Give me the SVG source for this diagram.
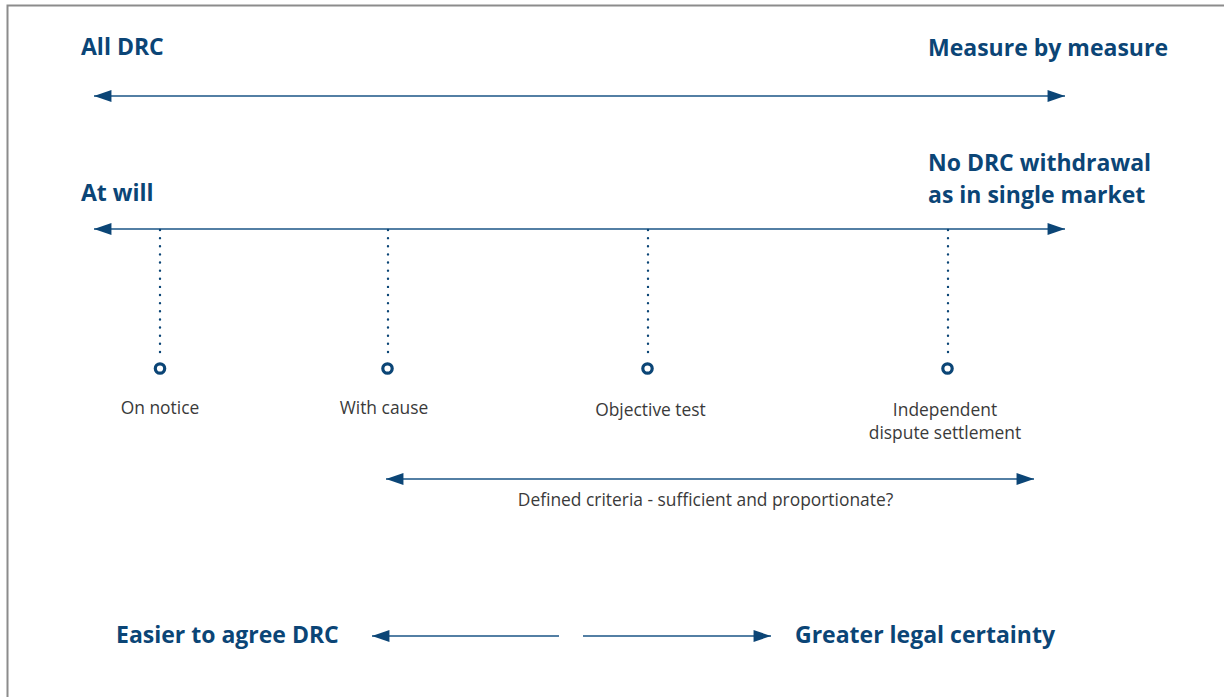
<svg xmlns="http://www.w3.org/2000/svg" width="1224" height="697" viewBox="0 0 1224 697">
<defs>
<marker id="ah" markerUnits="userSpaceOnUse" markerWidth="18" markerHeight="12" viewBox="0 0 16 11" refX="16" refY="5.5" orient="auto-start-reverse">
<path d="M0,0 L16,5.5 L0,11 Z" fill="#0b4576"/>
</marker>
<style>
.h{font-family:"Open Sans","Liberation Sans",sans-serif;font-weight:700;font-size:23px;fill:#0b4576}
.l{font-family:"Open Sans","Liberation Sans",sans-serif;font-size:17.4px;fill:#3a3a3a}
.ln{stroke:#1a5486;stroke-width:1.6;fill:none}
.dot{stroke:#0b4576;stroke-width:2.4;stroke-linecap:round;stroke-dasharray:0 8.13;fill:none}
.c{fill:#fff;stroke:#0b4576;stroke-width:3.2}
</style>
</defs>
<rect width="1224" height="697" fill="#fff"/>
<path d="M7.5,697 V5.5 H1224" fill="none" stroke="#8c8c8c" stroke-width="2"/>

<g id="connectors">
<line class="ln" x1="94" y1="96" x2="1065" y2="96" marker-start="url(#ah)" marker-end="url(#ah)"/>
<line class="ln" x1="94" y1="229" x2="1065" y2="229" marker-start="url(#ah)" marker-end="url(#ah)"/>
<line class="dot" x1="160" y1="230" x2="160" y2="352"/>
<line class="dot" x1="388" y1="230" x2="388" y2="352"/>
<line class="dot" x1="648" y1="230" x2="648" y2="352"/>
<line class="dot" x1="948" y1="230" x2="948" y2="352"/>
<line class="ln" x1="386" y1="479" x2="1034" y2="479" marker-start="url(#ah)" marker-end="url(#ah)"/>
<line class="ln" x1="372" y1="636" x2="559" y2="636" marker-start="url(#ah)"/>
<line class="ln" x1="583" y1="636" x2="771" y2="636" marker-end="url(#ah)"/>
</g>

<g id="all-drc"><text class="h" x="81" y="55">All DRC</text></g>
<g id="measure-by-measure"><text class="h" x="1168" y="56" text-anchor="end">Measure by measure</text></g>
<g id="at-will"><text class="h" x="81" y="201">At will</text></g>
<g id="no-drc-withdrawal"><text class="h" x="928" y="171">No DRC withdrawal</text><text class="h" x="928" y="203">as in single market</text></g>

<g id="on-notice"><circle class="c" cx="160" cy="368.5" r="4.7"/><text class="l" x="160" y="414" text-anchor="middle">On notice</text></g>
<g id="with-cause"><circle class="c" cx="387.5" cy="368.5" r="4.7"/><text class="l" x="384" y="414" text-anchor="middle">With cause</text></g>
<g id="objective-test"><circle class="c" cx="647.5" cy="368.5" r="4.7"/><text class="l" x="650.5" y="416" text-anchor="middle">Objective test</text></g>
<g id="independent-dispute"><circle class="c" cx="947.5" cy="368.5" r="4.7"/><text class="l" x="945" y="416" text-anchor="middle">Independent</text><text class="l" x="945" y="439" text-anchor="middle">dispute settlement</text></g>

<g id="defined-criteria"><text class="l" x="705.5" y="506" text-anchor="middle">Defined criteria - sufficient and proportionate?</text></g>
<g id="easier-to-agree"><text class="h" x="116" y="643">Easier to agree DRC</text></g>
<g id="greater-legal-certainty"><text class="h" x="795" y="643">Greater legal certainty</text></g>
</svg>
